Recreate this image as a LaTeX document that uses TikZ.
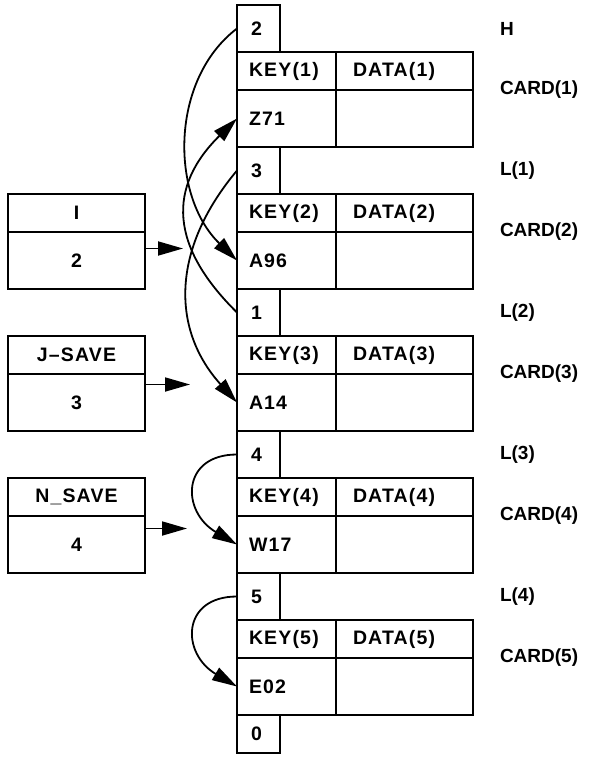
\documentclass[tikz,border=0pt]{standalone}
\usepackage{fontspec}
\setmainfont{Liberation Sans}[LetterSpace=6]
\newfontfamily\namefont{Liberation Sans}
\usetikzlibrary{positioning,arrows.meta}

\begin{document}
\begin{tikzpicture}[x=1pt, y=-1pt,
  font=\fontsize{19.5}{22}\selectfont\bfseries,
  every node/.style={outer sep=0pt},
  cell/.style={draw, line width=2.2pt, align=left, inner ysep=0pt},
  lnk/.style={cell, text width=15pt, inner xsep=14pt, minimum height=47pt},
  keyh/.style={cell, text width=75pt, inner xsep=12pt, minimum height=38pt},
  datah/.style={cell, text width=103pt, inner xsep=17pt, minimum height=38pt},
  keyv/.style={keyh, minimum height=57pt},
  datav/.style={datah, minimum height=57pt},
  varh/.style={cell, align=center, text width=113pt, inner xsep=12pt, minimum height=38pt},
  varv/.style={varh, minimum height=57pt},
  ptr/.style={-{Triangle[length=25pt,width=14pt]}, line width=1.8pt},
  lbl/.style={inner sep=0pt, anchor=west, font=\fontsize{19}{22}\namefont\bfseries}]
\useasboundingbox (0,0) rectangle (595,763);

% the cards and their link fields
\node (ln0) [lnk, anchor=north west] at (237,5) {2};
\node (kh1) [keyh, below right=0pt and 0pt of ln0.south west] {KEY(1)};
\node (dh1) [datah, right=0pt of kh1] {DATA(1)};
\node (kv1) [keyv, below=0pt of kh1] {Z71};
\node (dv1) [datav, below=0pt of dh1] {};
\node (ln1) [lnk, below right=0pt and 0pt of kv1.south west] {3};
\node (kh2) [keyh, below right=0pt and 0pt of ln1.south west] {KEY(2)};
\node (dh2) [datah, right=0pt of kh2] {DATA(2)};
\node (kv2) [keyv, below=0pt of kh2] {A96};
\node (dv2) [datav, below=0pt of dh2] {};
\node (ln2) [lnk, below right=0pt and 0pt of kv2.south west] {1};
\node (kh3) [keyh, below right=0pt and 0pt of ln2.south west] {KEY(3)};
\node (dh3) [datah, right=0pt of kh3] {DATA(3)};
\node (kv3) [keyv, below=0pt of kh3] {A14};
\node (dv3) [datav, below=0pt of dh3] {};
\node (ln3) [lnk, below right=0pt and 0pt of kv3.south west] {4};
\node (kh4) [keyh, below right=0pt and 0pt of ln3.south west] {KEY(4)};
\node (dh4) [datah, right=0pt of kh4] {DATA(4)};
\node (kv4) [keyv, below=0pt of kh4] {W17};
\node (dv4) [datav, below=0pt of dh4] {};
\node (ln4) [lnk, below right=0pt and 0pt of kv4.south west] {5};
\node (kh5) [keyh, below right=0pt and 0pt of ln4.south west] {KEY(5)};
\node (dh5) [datah, right=0pt of kh5] {DATA(5)};
\node (kv5) [keyv, below=0pt of kh5] {E02};
\node (dv5) [datav, below=0pt of dh5] {};
\node (ln5) [lnk, minimum height=38pt, below right=0pt and 0pt of kv5.south west] {0};

% the variables on the left
\node (ih) [varh, left=92pt of kh2] {I};
\node (iv) [varv, below=0pt of ih] {2};
\node (jh) [varh, left=92pt of kh3] {J–SAVE};
\node (jv) [varv, below=0pt of jh] {3};
\node (nh) [varh, left=92pt of kh4] {N\_SAVE};
\node (nv) [varv, below=0pt of nh] {4};

% names on the right
\node (hname) [lbl, right=220pt of ln0] {H};
\node (lname1) [lbl, right=220pt of ln1] {L(1)};
\node (lname2) [lbl, right=220pt of ln2] {L(2)};
\node (lname3) [lbl, right=220pt of ln3] {L(3)};
\node (lname4) [lbl, right=220pt of ln4] {L(4)};
\node (cname1) [lbl, right=27pt of dh1.south east] {CARD(1)};
\node (cname2) [lbl, right=27pt of dh2.south east] {CARD(2)};
\node (cname3) [lbl, right=27pt of dh3.south east] {CARD(3)};
\node (cname4) [lbl, right=27pt of dh4.south east] {CARD(4)};
\node (cname5) [lbl, right=27pt of dh5.south east] {CARD(5)};

% links
\draw[ptr] (ln0.west) .. controls +(-67,51) and +(-67,-65) .. (kv2.west);
\draw[ptr] (ln1.west) .. controls +(-67,80) and +(-65,-72) .. (kv3.west);
\draw[ptr] (ln2.west) .. controls +(-67,-66) and +(-70,69) .. (kv1.west);
\draw[ptr] (ln3.west) .. controls +(-56,0) and +(-56,-33) .. (kv4.west);
\draw[ptr] (ln4.west) .. controls +(-56,0) and +(-56,-33) .. (kv5.west);

\coordinate (pI) at ([shift={(38pt,12pt)}]iv.east);
\coordinate (pJ) at ([shift={(45pt,18pt)}]jv.east);
\coordinate (pN) at ([shift={(42pt,16pt)}]nv.east);
\draw[ptr] ([yshift=12pt]iv.east) -- (pI);
\draw[ptr] ([yshift=18pt]jv.east) -- (pJ);
\draw[ptr] ([yshift=16pt]nv.east) -- (pN);
\end{tikzpicture}
\end{document}
